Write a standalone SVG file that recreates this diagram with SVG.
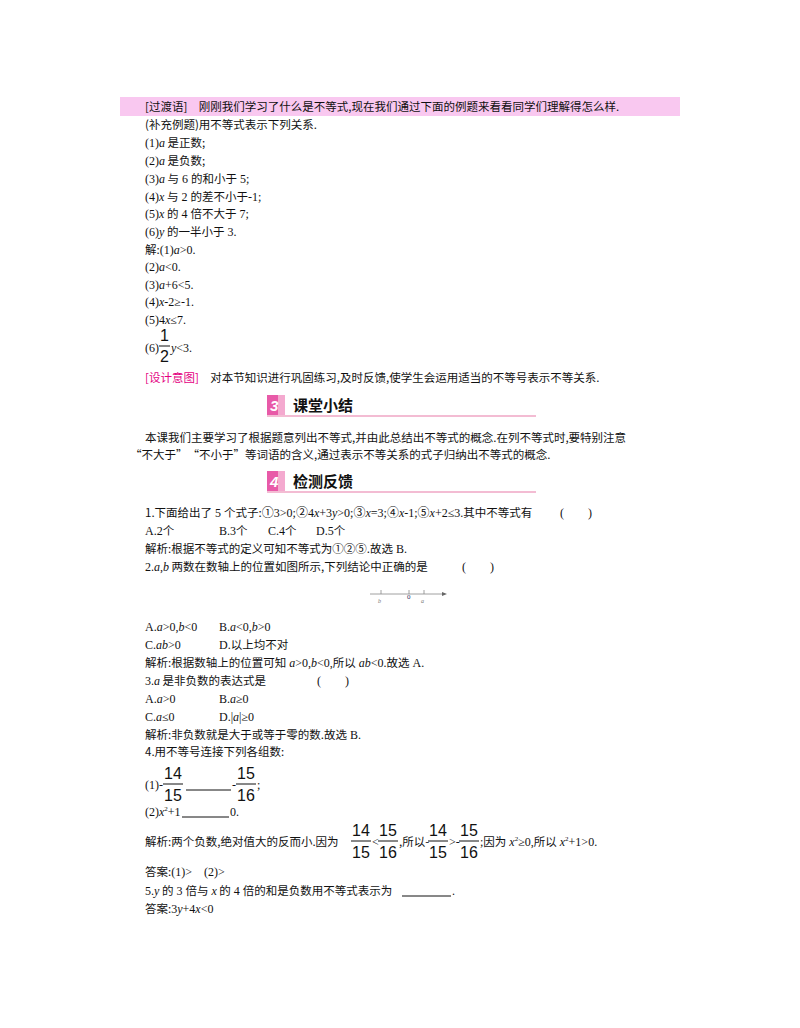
<svg xmlns="http://www.w3.org/2000/svg" width="800" height="1028" viewBox="0 0 800 1028">
<style>
text{font-family:"Liberation Serif","Noto Sans CJK SC",serif;font-size:12px;fill:#111}
.c{font-family:"Noto Sans CJK SC",sans-serif;font-size:11.5px}
.i{font-style:italic}
.h{font-family:"Noto Sans CJK SC",sans-serif;font-size:15px;font-weight:bold}
.n{font-family:"Liberation Sans",sans-serif;font-size:15px;font-weight:bold;font-style:italic;fill:#fff}
.f{font-family:"Liberation Sans",sans-serif;font-size:16px}
.m{fill:#e4007f}
</style>
<rect width="800" height="1028" fill="#fff"/>
<rect x="120" y="97" width="560" height="19" fill="#f9c8f0"/>
<g id="text1">
<text x="145" y="111" class="c">[过渡语]　刚刚我们学习了什么是不等式,现在我们通过下面的例题来看看同学们理解得怎么样.</text>
<text x="145" y="129" class="c">(补充例题)用不等式表示下列关系.</text>
<text x="145" y="147">(1)<tspan class="i">a</tspan><tspan class="c"> 是正数;</tspan></text>
<text x="145" y="165">(2)<tspan class="i">a</tspan><tspan class="c"> 是负数;</tspan></text>
<text x="145" y="183">(3)<tspan class="i">a</tspan><tspan class="c"> 与</tspan> 6 <tspan class="c">的和小于</tspan> 5;</text>
<text x="145" y="201">(4)<tspan class="i">x</tspan><tspan class="c"> 与</tspan> 2 <tspan class="c">的差不小于</tspan>-1;</text>
<text x="145" y="218">(5)<tspan class="i">x</tspan><tspan class="c"> 的</tspan> 4 <tspan class="c">倍不大于</tspan> 7;</text>
<text x="145" y="236">(6)<tspan class="i">y</tspan><tspan class="c"> 的一半小于</tspan> 3.</text>
<text x="145" y="254"><tspan class="c">解:</tspan>(1)<tspan class="i">a</tspan>&gt;0.</text>
<text x="145" y="271">(2)<tspan class="i">a</tspan>&lt;0.</text>
<text x="145" y="289">(3)<tspan class="i">a</tspan>+6&lt;5.</text>
<text x="145" y="306">(4)<tspan class="i">x</tspan>-2≥-1.</text>
<text x="145" y="324">(5)4<tspan class="i">x</tspan>≤7.</text>
<text x="145" y="352">(6)</text>
<text x="160" y="341" class="f">1</text><line x1="159" y1="346" x2="170" y2="346" stroke="#111"/><text x="160" y="362" class="f">2</text>
<text x="171" y="352"><tspan class="i">y</tspan>&lt;3.</text>
<text x="145" y="382" class="c"><tspan class="m">[设计意图]</tspan>　对本节知识进行巩固练习,及时反馈,使学生会运用适当的不等号表示不等关系.</text>
</g>
<g id="header3">
<rect x="267" y="395" width="18" height="20" fill="#e85aa8"/>
<rect x="278" y="395" width="7" height="20" fill="#f4a9cf"/>
<text x="270" y="411" class="n">3</text>
<text x="293" y="411" class="h">课堂小结</text>
<line x1="267" y1="416" x2="536" y2="416" stroke="#e87aa8" stroke-width="1.2"/>
</g>
<g id="text2">
<text x="145" y="442" class="c">本课我们主要学习了根据题意列出不等式,并由此总结出不等式的概念.在列不等式时,要特别注意</text>
<text x="130" y="459" class="c">“不大于”　“不小于”等词语的含义,通过表示不等关系的式子归纳出不等式的概念.</text>
</g>
<g id="header4">
<rect x="267" y="471" width="18" height="20" fill="#e85aa8"/>
<rect x="278" y="471" width="7" height="20" fill="#f4a9cf"/>
<text x="270" y="487" class="n">4</text>
<text x="293" y="487" class="h">检测反馈</text>
<line x1="267" y1="492" x2="536" y2="492" stroke="#e87aa8" stroke-width="1.2"/>
</g>
<g id="text3">
<text x="145" y="517"><tspan class="c">1.下面给出了</tspan> 5 <tspan class="c">个式子:</tspan>①3&gt;0;②4<tspan class="i">x</tspan>+3<tspan class="i">y</tspan>&gt;0;③<tspan class="i">x</tspan>=3;④<tspan class="i">x</tspan>-1;⑤<tspan class="i">x</tspan>+2≤3.<tspan class="c">其中不等式有</tspan></text>
<text x="560" y="517">(</text><text x="588" y="517">)</text>
<text x="145" y="535">A.2<tspan class="c">个</tspan></text>
<text x="219" y="535">B.3<tspan class="c">个</tspan></text>
<text x="268" y="535">C.4<tspan class="c">个</tspan></text>
<text x="316" y="535">D.5<tspan class="c">个</tspan></text>
<text x="145" y="553"><tspan class="c">解析:根据不等式的定义可知不等式为①②⑤.故选</tspan> B.</text>
<text x="145" y="571">2.<tspan class="i">a</tspan>,<tspan class="i">b</tspan><tspan class="c"> 两数在数轴上的位置如图所示,下列结论中正确的是</tspan></text>
<text x="462" y="571">(</text><text x="490" y="571">)</text>
</g>
<g id="numberline">
<line x1="370" y1="594" x2="442" y2="594" stroke="#888" stroke-width="0.8"/>
<path d="M442,592 L447,594 L442,596Z" fill="#666"/>
<line x1="381" y1="590" x2="381" y2="594" stroke="#888" stroke-width="0.8"/>
<line x1="409" y1="590" x2="409" y2="594" stroke="#888" stroke-width="0.8"/>
<line x1="424" y1="590" x2="424" y2="594" stroke="#888" stroke-width="0.8"/>
<text x="378" y="603" class="i" style="font-size:6px;fill:#777">b</text>
<text x="407" y="599" style="font-size:7px;fill:#336">0</text>
<text x="421" y="603" class="i" style="font-size:6px;fill:#777">a</text>
</g>
<g id="text4">
<text x="145" y="631">A.<tspan class="i">a</tspan>&gt;0,<tspan class="i">b</tspan>&lt;0</text>
<text x="219" y="631">B.<tspan class="i">a</tspan>&lt;0,<tspan class="i">b</tspan>&gt;0</text>
<text x="145" y="649">C.<tspan class="i">ab</tspan>&gt;0</text>
<text x="219" y="649">D.<tspan class="c">以上均不对</tspan></text>
<text x="145" y="667"><tspan class="c">解析:根据数轴上的位置可知</tspan> <tspan class="i">a</tspan>&gt;0,<tspan class="i">b</tspan>&lt;0,<tspan class="c">所以</tspan> <tspan class="i">ab</tspan>&lt;0.<tspan class="c">故选</tspan> A.</text>
<text x="145" y="685">3.<tspan class="i">a</tspan><tspan class="c"> 是非负数的表达式是</tspan></text>
<text x="317" y="685">(</text><text x="345" y="685">)</text>
<text x="145" y="703">A.<tspan class="i">a</tspan>&gt;0</text>
<text x="219" y="703">B.<tspan class="i">a</tspan>≥0</text>
<text x="145" y="721">C.<tspan class="i">a</tspan>≤0</text>
<text x="219" y="721">D.|<tspan class="i">a</tspan>|≥0</text>
<text x="145" y="739"><tspan class="c">解析:非负数就是大于或等于零的数.故选</tspan> B.</text>
<text x="145" y="756" class="c">4.用不等号连接下列各组数:</text>
<text x="145" y="789">(1)-</text>
<text x="164" y="779" class="f">14</text><line x1="163" y1="784" x2="183" y2="784" stroke="#111"/><text x="164" y="801" class="f">15</text>
<line x1="186" y1="790" x2="231" y2="790" stroke="#111"/>
<text x="232" y="789">-</text>
<text x="237" y="779" class="f">15</text><line x1="236" y1="784" x2="256" y2="784" stroke="#111"/><text x="237" y="801" class="f">16</text>
<text x="257" y="789">;</text>
<text x="145" y="816">(2)<tspan class="i">x</tspan><tspan style="font-size:7px" dy="-5">2</tspan><tspan dy="5">+1</tspan></text>
<line x1="182" y1="817" x2="229" y2="817" stroke="#111"/>
<text x="230" y="816">0.</text>
<text x="145" y="846" class="c">解析:两个负数,绝对值大的反而小.因为</text>
<text x="352" y="836" class="f">14</text><line x1="351" y1="841" x2="371" y2="841" stroke="#111"/><text x="352" y="858" class="f">15</text>
<text x="372" y="846">&lt;</text>
<text x="379" y="836" class="f">15</text><line x1="378" y1="841" x2="398" y2="841" stroke="#111"/><text x="379" y="858" class="f">16</text>
<text x="399" y="846" class="c">,所以-</text>
<text x="429" y="836" class="f">14</text><line x1="428" y1="841" x2="448" y2="841" stroke="#111"/><text x="429" y="858" class="f">15</text>
<text x="449" y="846">&gt;-</text>
<text x="460" y="836" class="f">15</text><line x1="459" y1="841" x2="479" y2="841" stroke="#111"/><text x="460" y="858" class="f">16</text>
<text x="480" y="846">;<tspan class="c">因为</tspan> <tspan class="i">x</tspan><tspan style="font-size:7px" dy="-5">2</tspan><tspan dy="5">≥0,</tspan><tspan class="c">所以</tspan> <tspan class="i">x</tspan><tspan style="font-size:7px" dy="-5">2</tspan><tspan dy="5">+1&gt;0.</tspan></text>
<text x="145" y="876"><tspan class="c">答案:</tspan>(1)&gt;　(2)&gt;</text>
<text x="145" y="895">5.<tspan class="i">y</tspan><tspan class="c"> 的</tspan> 3 <tspan class="c">倍与</tspan> <tspan class="i">x</tspan><tspan class="c"> 的</tspan> 4 <tspan class="c">倍的和是负数用不等式表示为</tspan></text>
<line x1="402" y1="896" x2="451" y2="896" stroke="#111"/>
<text x="452" y="895">.</text>
<text x="145" y="913"><tspan class="c">答案:</tspan>3<tspan class="i">y</tspan>+4<tspan class="i">x</tspan>&lt;0</text>
</g>
</svg>
